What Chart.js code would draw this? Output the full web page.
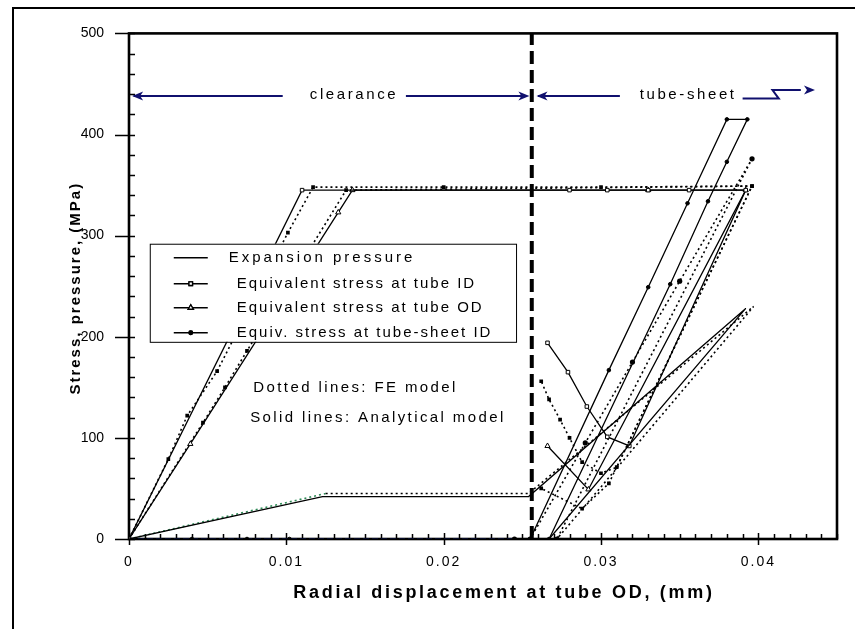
<!DOCTYPE html>
<html>
<head>
<meta charset="utf-8">
<script src="https://cdn.jsdelivr.net/npm/chart.js@4.4.0/dist/chart.umd.min.js"></script>
<style>
  html, body { margin: 0; padding: 0; background: #fff; }
  #wrap { width: 855px; height: 629px; }
</style>
</head>
<body>
<div id="wrap"><canvas id="chart" width="855" height="629"></canvas></div>
<script>
// axes
const xTicks = [0, 0.01, 0.02, 0.03, 0.04];
const yTicks = [0, 100, 200, 300, 400, 500];
const xTitle = 'Radial displacement at tube OD, (mm)';
const yTitle = 'Stress, pressure, (MPa)';
const contactX = 0.0256;   // tube touches the tube-sheet here

const legendLabels = ['Expansion pressure', 'Equivalent stress at tube ID',
  'Equivalent stress at tube OD', 'Equiv. stress at tube-sheet ID'];
const noteLines = ['Dotted lines: FE model', 'Solid lines: Analytical model'];
const zoneLabels = ['clearance', 'tube-sheet'];

// analytical model (solid lines)
const pressSolidX = [0, 0.0123, 0.0254, 0.0392, 0.0267];
const pressSolidY = [0, 42, 42, 228, 0];
const tubeIdSolidX = [0, 0.0110, 0.0280, 0.0304, 0.0330, 0.0356, 0.0392, 0.0318, 0.0304, 0.0291, 0.0279, 0.0266];
const tubeIdSolidY = [0, 345, 345, 345, 345, 345, 345, 92, 101, 131, 165, 194];
const tubeOdSolidX = [0, 0.0039, 0.0133, 0.0142, 0.0330, 0.0392, 0.0292, 0.0266];
const tubeOdSolidY = [0, 94, 323, 345, 345, 345, 49, 92];
const sheetSolidX = [0, 0.0040, 0.0075, 0.0102, 0.0255, 0.0305, 0.0330, 0.0355, 0.0380, 0.0393, 0.0380, 0.0368, 0.0344, 0.0267];
const sheetSolidY = [0, 0, 0, 0, 0, 167, 249, 332, 415, 415, 373, 334, 252, 0];

// FE model (dotted lines)
const pressFeX = [0, 0.0125, 0.0254, 0.0397, 0.0272];
const pressFeY = [0, 45, 45, 230, 0];
const tubeIdFeX = [0, 0.0025, 0.0037, 0.0056, 0.0101, 0.0117, 0.0200, 0.0300, 0.0396, 0.0310, 0.0300, 0.0288, 0.0280, 0.0274, 0.0267, 0.0262];
const tubeIdFeY = [0, 79, 122, 166, 303, 348, 348, 348, 349, 71, 65, 76, 100, 118, 138, 156];
const tubeOdFeX = [0, 0.0047, 0.0061, 0.0075, 0.0138, 0.0396, 0.0305, 0.0288, 0.0262];
const tubeOdFeY = [0, 115, 150, 186, 345, 349, 55, 30, 50];
const sheetFeX = [0, 0.0245, 0.0255, 0.0290, 0.0320, 0.0350, 0.0396, 0.0272];
const sheetFeY = [0, 0, 0, 95, 175, 255, 376, 0];

const FONT = '"Liberation Sans", Arial, sans-serif';
const NAVY = '#10106e';

function pts(xs, ys) {
  return xs.map((x, i) => ({ x: x, y: ys[i] }));
}

// colour the clearance part of an FE curve
function clearSeg(color, dash) {
  return {
    borderColor: c => (c.p1.parsed.x <= contactX - 0.001 ? color : undefined),
    borderDash: c => (c.p1.parsed.x <= contactX - 0.001 && dash ? dash : undefined)
  };
}

const solid = { showLine: true, borderColor: '#000', borderWidth: 1.3, tension: 0,
  pointBorderColor: '#000', pointBorderWidth: 1 };
const dotted = { showLine: true, borderColor: '#000', borderWidth: 1.6, borderDash: [2, 3], tension: 0,
  pointBackgroundColor: '#000', pointBorderColor: '#000', pointBorderWidth: 0 };

const datasets = [
  Object.assign({}, solid, { data: pts(pressSolidX, pressSolidY), pointRadius: 0 }),
  Object.assign({}, solid, { data: pts(tubeIdSolidX, tubeIdSolidY), pointStyle: 'rect', pointRadius: 2.5, pointBackgroundColor: '#fff' }),
  Object.assign({}, solid, { data: pts(tubeOdSolidX, tubeOdSolidY), pointStyle: 'triangle', pointRadius: 3, pointBackgroundColor: '#fff' }),
  Object.assign({}, solid, { data: pts(sheetSolidX, sheetSolidY), pointStyle: 'circle', pointRadius: 1.8, pointBackgroundColor: '#000' }),
  Object.assign({}, dotted, { data: pts(pressFeX, pressFeY), pointRadius: 0, segment: clearSeg('#2e8b57', null) }),
  Object.assign({}, dotted, { data: pts(tubeIdFeX, tubeIdFeY), pointStyle: 'rect', pointRadius: 2.6 }),
  Object.assign({}, dotted, { data: pts(tubeOdFeX, tubeOdFeY), pointStyle: 'rect', pointRadius: 2.6 }),
  Object.assign({}, dotted, { data: pts(sheetFeX, sheetFeY), pointStyle: 'circle', pointRadius: 2.6, segment: clearSeg('#1f3fe0', [6, 3]) }),
  // boundary between clearance and tube-sheet zones
  { showLine: true, data: [{ x: contactX, y: 0 }, { x: contactX, y: 500 }], borderColor: '#000',
    borderWidth: 4, borderDash: [13, 6], pointRadius: 0 }
];

function arrowHead(ctx, x, y, dir) {
  ctx.beginPath();
  ctx.moveTo(x, y);
  ctx.lineTo(x - dir * 11, y - 4.5);
  ctx.lineTo(x - dir * 8, y);
  ctx.lineTo(x - dir * 11, y + 4.5);
  ctx.closePath();
  ctx.fill();
}

const decor = {
  id: 'decor',
  beforeDraw(chart) {
    const ctx = chart.ctx;
    ctx.letterSpacing = '2px';
    const ys = chart.scales.y;
    if (!ys._plainLabels) {
      const orig = ys.drawLabels.bind(ys);
      ys.drawLabels = function (area) {
        ctx.save();
        ctx.letterSpacing = '0px';
        orig(area);
        ctx.restore();
      };
      ys._plainLabels = true;
    }
  },
  beforeDatasetsDraw(chart) {
    const ctx = chart.ctx;
    const a = chart.chartArea;
    const xs = chart.scales.x, ys = chart.scales.y;
    ctx.save();
    ctx.strokeStyle = '#000';
    // ticks
    ctx.lineWidth = 1.5;
    ctx.beginPath();
    for (let i = 0; i <= 45; i++) {
      const px = Math.round(xs.getPixelForValue(i / 1000)) + 0.5;
      const major = i % 10 === 0;
      ctx.moveTo(px, a.bottom + (major ? 6 : 0));
      ctx.lineTo(px, a.bottom - (major ? 6 : 5));
    }
    for (let v = 0; v <= 500; v += 20) {
      const py = Math.round(ys.getPixelForValue(v)) + 0.5;
      const major = v % 100 === 0;
      ctx.moveTo(a.left - (major ? 14 : 0), py);
      ctx.lineTo(a.left + 6, py);
    }
    ctx.stroke();
    // plot frame
    ctx.lineWidth = 2.6;
    ctx.strokeRect(a.left, a.top, a.right - a.left, a.bottom - a.top);
    // figure frame
    ctx.lineWidth = 2;
    ctx.beginPath();
    ctx.moveTo(13, 629); ctx.lineTo(13, 8); ctx.lineTo(855, 8);
    ctx.stroke();

    // axis titles
    ctx.fillStyle = '#000';
    ctx.textAlign = 'center';
    ctx.textBaseline = 'middle';
    ctx.font = 'bold 18px ' + FONT;
    ctx.letterSpacing = '2.7px';
    ctx.fillText(xTitle, 504, 593);
    ctx.translate(76, (a.top + a.bottom) / 2 + 2);
    ctx.rotate(-Math.PI / 2);
    ctx.font = 'bold 15px ' + FONT;
    ctx.letterSpacing = '2px';
    ctx.fillText(yTitle, 0, 0);
    ctx.restore();
  },
  afterDatasetsDraw(chart) {
    const ctx = chart.ctx;
    const xs = chart.scales.x, ys = chart.scales.y;
    const X = v => xs.getPixelForValue(v), Y = v => ys.getPixelForValue(v);
    ctx.save();

    // zone arrows
    const ay = Y(438);
    ctx.strokeStyle = NAVY; ctx.fillStyle = NAVY; ctx.lineWidth = 2;
    ctx.beginPath();
    ctx.moveTo(X(0.0003), ay); ctx.lineTo(X(0.00977), ay);
    ctx.moveTo(X(0.0176), ay); ctx.lineTo(X(0.0253), ay);
    ctx.moveTo(X(0.0260), ay); ctx.lineTo(X(0.0312), ay);
    const zy = Y(435.5), zt = Y(444);
    ctx.moveTo(X(0.0390), zy); ctx.lineTo(X(0.0413), zy); ctx.lineTo(X(0.0409), zt); ctx.lineTo(X(0.0427), zt);
    ctx.stroke();
    arrowHead(ctx, X(0.0002), ay, -1);
    arrowHead(ctx, X(0.02545), ay, 1);
    arrowHead(ctx, X(0.02590), ay, -1);
    arrowHead(ctx, X(0.0436), zt, 1);

    ctx.fillStyle = '#000';
    ctx.font = '15px ' + FONT;
    ctx.textBaseline = 'middle';
    ctx.textAlign = 'left';
    ctx.letterSpacing = '2.6px';
    ctx.fillText(zoneLabels[0], X(0.01149), ay - 1);
    ctx.fillText(zoneLabels[1], X(0.03246), ay - 1);

    // model notes
    ctx.letterSpacing = '2.4px';
    ctx.fillText(noteLines[0], X(0.0079), Y(149));
    ctx.fillText(noteLines[1], X(0.0077), Y(120));

    // legend box
    const bx = X(0.00132), by = Y(292), bw = X(0.0246) - bx, bh = Y(195) - by;
    ctx.fillStyle = '#fff';
    ctx.fillRect(bx, by, bw, bh);
    ctx.strokeStyle = '#000'; ctx.lineWidth = 1;
    ctx.strokeRect(bx + 0.5, by + 0.5, bw, bh);
    const rowY = [by + 14, by + 40, by + 64, by + 89];
    const styles = [null, 'rect', 'triangle', 'circle'];
    legendLabels.forEach((lab, i) => {
      const ry = rowY[i];
      ctx.strokeStyle = '#000'; ctx.lineWidth = 1.3;
      ctx.beginPath(); ctx.moveTo(bx + 24, ry); ctx.lineTo(bx + 58, ry); ctx.stroke();
      if (styles[i]) {
        const ds = datasets[i];
        Chart.helpers.drawPoint(ctx, {
          pointStyle: styles[i], radius: i === 3 ? 1.8 : (i === 2 ? 3 : 2.5), rotation: 0, borderWidth: 1
        }, bx + 41, ry);
        ctx.fillStyle = ds.pointBackgroundColor;
        ctx.fill();
        ctx.stroke();
      }
      ctx.fillStyle = '#000';
      ctx.letterSpacing = i === 0 ? '3px' : '2px';
      ctx.fillText(lab, bx + (i === 0 ? 79 : 87), ry);
    });
    ctx.restore();
  }
};

new Chart(document.getElementById('chart'), {
  type: 'scatter',
  data: { datasets: datasets },
  options: {
    responsive: false,
    animation: false,
    devicePixelRatio: 1,
    layout: { padding: { top: 32, right: 18, left: 0, bottom: 0 } },
    plugins: { legend: { display: false }, tooltip: { enabled: false } },
    scales: {
      x: {
        type: 'linear', min: 0, max: 0.045,
        afterBuildTicks: s => { s.ticks = xTicks.map(v => ({ value: v })); },
        afterFit: s => { s.height = 90; },
        grid: { display: false, drawTicks: false },
        border: { display: false },
        ticks: {
          color: '#000', padding: 15, maxRotation: 0, autoSkip: false,
          font: { family: FONT, size: 14 },
          callback: v => (v === 0 ? '0' : v.toFixed(2))
        },
        title: { display: false }
      },
      y: {
        type: 'linear', min: 0, max: 500,
        afterBuildTicks: s => { s.ticks = yTicks.map(v => ({ value: v })); },
        afterFit: s => { s.width = 129; },
        grid: { display: false, drawTicks: false },
        border: { display: false },
        ticks: { color: '#000', padding: 25, font: { family: FONT, size: 14 } },
        title: { display: false }
      }
    }
  },
  plugins: [decor]
});
</script>
</body>
</html>
